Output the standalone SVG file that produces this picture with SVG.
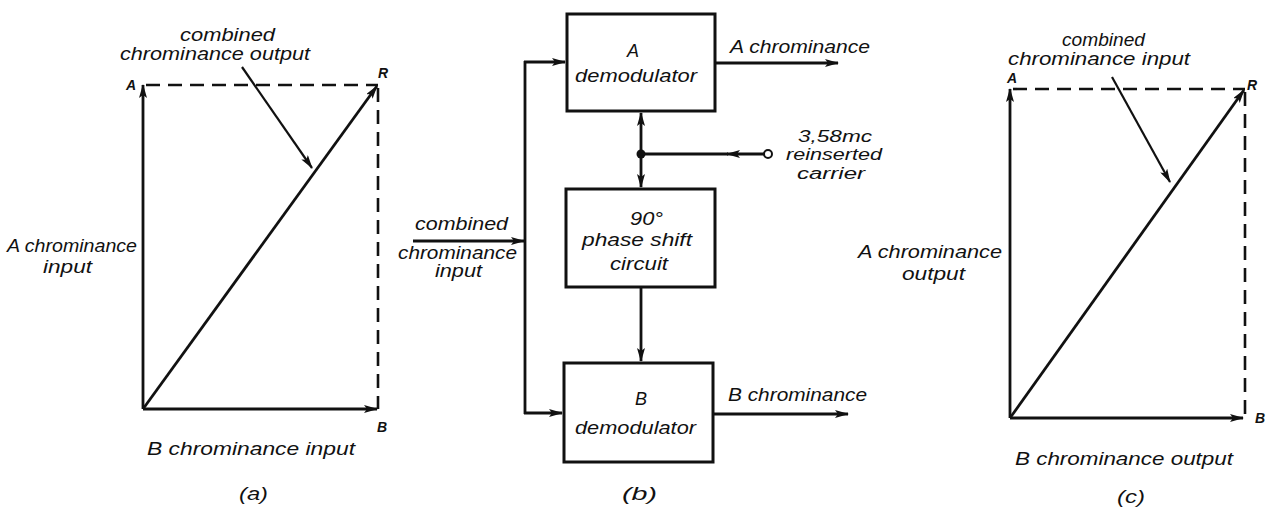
<svg xmlns="http://www.w3.org/2000/svg" width="1267" height="508" viewBox="0 0 1267 508">
<style>
.t{font-family:"Liberation Sans",Arial,sans-serif;font-style:italic;font-size:18px;fill:#111}
.s{font-size:16px}
.l{font-family:"Liberation Sans",Arial,sans-serif;font-style:italic;font-weight:bold;font-size:14px;fill:#111}
.ln{stroke:#111;stroke-width:2.8;fill:none}
.thin{stroke:#111;stroke-width:2.2;fill:none}
.dash{stroke:#111;stroke-width:2.6;fill:none;stroke-dasharray:14 8}
.box{fill:#fff;stroke:#111;stroke-width:3}
</style>
<defs>
<marker id="ah" markerUnits="userSpaceOnUse" markerWidth="14" markerHeight="8" refX="13" refY="4" orient="auto">
<path d="M0,0 L14,4 L0,8 L3,4 z" fill="#111"/>
</marker>
</defs>
<rect width="1267" height="508" fill="#fff"/>

<g id="panel-a">
<line class="dash" x1="146" y1="85" x2="378" y2="85"/>
<line class="dash" x1="378" y1="88" x2="378" y2="409"/>
<line class="ln" x1="143" y1="409" x2="143" y2="85" marker-end="url(#ah)"/>
<line class="ln" x1="143" y1="409" x2="377" y2="409" marker-end="url(#ah)"/>
<line class="ln" x1="143" y1="409" x2="377" y2="86" marker-end="url(#ah)"/>
<line class="thin" x1="242" y1="67" x2="312" y2="168" marker-end="url(#ah)"/>
<text class="t" x="180" y="41" textLength="95" lengthAdjust="spacingAndGlyphs">combined</text>
<text class="t" x="120" y="60" textLength="190" lengthAdjust="spacingAndGlyphs">chrominance output</text>
<text class="l" x="126" y="90">A</text>
<text class="l" x="378" y="78">R</text>
<text class="l" x="377" y="432">B</text>
<text class="t" x="7" y="252" textLength="130" lengthAdjust="spacingAndGlyphs">A chrominance</text>
<text class="t" x="43" y="273" textLength="49" lengthAdjust="spacingAndGlyphs">input</text>
<text class="t" x="147" y="455" textLength="208" lengthAdjust="spacingAndGlyphs">B chrominance input</text>
<text class="t" x="239" y="500" textLength="29" lengthAdjust="spacingAndGlyphs">(a)</text>
</g>

<g id="node-a-demod">
<rect class="box" x="567" y="14" width="148" height="97"/>
<text class="t" x="633" y="57" text-anchor="middle">A</text>
<text class="t" x="575" y="82" textLength="122" lengthAdjust="spacingAndGlyphs">demodulator</text>
</g>
<g id="node-phase">
<rect class="box" x="566" y="189" width="149" height="98"/>
<text class="t" x="630" y="225" textLength="33" lengthAdjust="spacingAndGlyphs">90°</text>
<text class="t" x="582" y="246" textLength="110" lengthAdjust="spacingAndGlyphs">phase shift</text>
<text class="t" x="610" y="270" textLength="58" lengthAdjust="spacingAndGlyphs">circuit</text>
</g>
<g id="node-b-demod">
<rect class="box" x="564" y="363" width="149" height="99"/>
<text class="t" x="641" y="405" text-anchor="middle">B</text>
<text class="t" x="575" y="434" textLength="121" lengthAdjust="spacingAndGlyphs">demodulator</text>
</g>
<g id="node-carrier">
<circle cx="768" cy="154" r="4" fill="#fff" stroke="#111" stroke-width="2"/>
<text class="t s" x="798" y="142" textLength="74" lengthAdjust="spacingAndGlyphs">3,58mc</text>
<text class="t s" x="786" y="160" textLength="96" lengthAdjust="spacingAndGlyphs">reinserted</text>
<text class="t s" x="797" y="179" textLength="68" lengthAdjust="spacingAndGlyphs">carrier</text>
</g>
<g id="labels-b">
<text class="t" x="415" y="230" textLength="93" lengthAdjust="spacingAndGlyphs">combined</text>
<text class="t" x="398" y="259" textLength="119" lengthAdjust="spacingAndGlyphs">chrominance</text>
<text class="t" x="435" y="277" textLength="47" lengthAdjust="spacingAndGlyphs">input</text>
<text class="t" x="730" y="53" textLength="140" lengthAdjust="spacingAndGlyphs">A chrominance</text>
<text class="t" x="728" y="401" textLength="139" lengthAdjust="spacingAndGlyphs">B chrominance</text>
<text class="t" x="622" y="500" textLength="35" lengthAdjust="spacingAndGlyphs">(b)</text>
</g>
<g id="connectors">
<line class="ln" x1="413" y1="241" x2="524" y2="241" marker-end="url(#ah)"/>
<line class="ln" x1="525" y1="61" x2="525" y2="414"/>
<line class="ln" x1="524" y1="62" x2="565" y2="62" marker-end="url(#ah)"/>
<line class="ln" x1="524" y1="413" x2="562" y2="413" marker-end="url(#ah)"/>
<line class="ln" x1="641" y1="154" x2="641" y2="113" marker-end="url(#ah)"/>
<line class="ln" x1="641" y1="154" x2="641" y2="187" marker-end="url(#ah)"/>
<circle cx="641" cy="154" r="4.5" fill="#111"/>
<line class="ln" x1="764" y1="154" x2="727" y2="154" marker-end="url(#ah)"/>
<line class="ln" x1="728" y1="154" x2="641" y2="154"/>
<line class="ln" x1="641" y1="287" x2="641" y2="361" marker-end="url(#ah)"/>
<line class="ln" x1="715" y1="63" x2="838" y2="63" marker-end="url(#ah)"/>
<line class="ln" x1="713" y1="414" x2="848" y2="414" marker-end="url(#ah)"/>
</g>

<g id="panel-c">
<line class="dash" x1="1013" y1="89" x2="1245" y2="89"/>
<line class="dash" x1="1245" y1="92" x2="1245" y2="418"/>
<line class="ln" x1="1010" y1="418" x2="1010" y2="89" marker-end="url(#ah)"/>
<line class="ln" x1="1010" y1="418" x2="1243" y2="418" marker-end="url(#ah)"/>
<line class="ln" x1="1010" y1="418" x2="1244" y2="90" marker-end="url(#ah)"/>
<line class="thin" x1="1112" y1="77" x2="1170" y2="182" marker-end="url(#ah)"/>
<text class="t" x="1062" y="46" textLength="83" lengthAdjust="spacingAndGlyphs">combined</text>
<text class="t" x="1008" y="65" textLength="182" lengthAdjust="spacingAndGlyphs">chrominance input</text>
<text class="l" x="1007" y="83">A</text>
<text class="l" x="1247" y="90">R</text>
<text class="l" x="1255" y="423">B</text>
<text class="t" x="858" y="258" textLength="144" lengthAdjust="spacingAndGlyphs">A chrominance</text>
<text class="t" x="902" y="280" textLength="63" lengthAdjust="spacingAndGlyphs">output</text>
<text class="t" x="1015" y="465" textLength="218" lengthAdjust="spacingAndGlyphs">B chrominance output</text>
<text class="t" x="1117" y="503" textLength="28" lengthAdjust="spacingAndGlyphs">(c)</text>
</g>
</svg>
